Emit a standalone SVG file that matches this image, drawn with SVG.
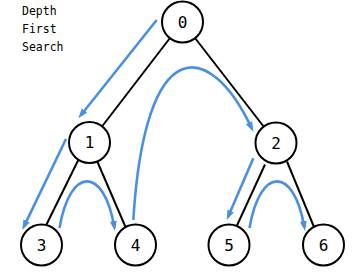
<svg xmlns="http://www.w3.org/2000/svg" width="359" height="274" viewBox="0 0 359 274">
<defs>
<style>
.node circle{fill:#fff;stroke:#000;stroke-width:2}
.node text{font-family:"DejaVu Sans Mono","Liberation Mono",monospace;font-size:16px;text-anchor:middle;dominant-baseline:central;fill:#000}
.edge{stroke:#000;stroke-width:2;fill:none}
.walk{stroke:#4A90E2;stroke-width:2.6;fill:none;marker-end:url(#ah)}
.title{font-family:"DejaVu Sans Mono","Liberation Mono",monospace;font-size:11.5px;fill:#000}
</style>
<marker id="ah" markerUnits="userSpaceOnUse" markerWidth="10" markerHeight="8" refX="6" refY="4" orient="auto">
<path d="M0,0.5 L10,4 L0,7.5 z" fill="#4A90E2"/>
</marker>
</defs>
<rect width="359" height="274" fill="#fff"/>
<g id="title">
<text class="title" x="22" y="15">Depth</text>
<text class="title" x="22" y="33">First</text>
<text class="title" x="22" y="50.5">Search</text>
</g>
<g id="connectors">
<line class="edge" x1="170" y1="38" x2="102" y2="126.5"/>
<line class="edge" x1="195" y1="38" x2="264" y2="127"/>
<line class="edge" x1="78.3" y1="160" x2="46" y2="225.5"/>
<line class="edge" x1="97.3" y1="161.5" x2="125.5" y2="227"/>
<line class="edge" x1="265" y1="164.5" x2="236.5" y2="226.5"/>
<line class="edge" x1="287" y1="161.5" x2="314" y2="227"/>
<path class="walk" d="M156.7,20 L80.8,115.2"/>
<path class="walk" d="M66,139 L24,226.4"/>
<path class="walk" d="M59.5,228 C70,166 104,166 114.3,227"/>
<path class="walk" d="M133.3,220 C145,30 210,40 251.6,128.1"/>
<path class="walk" d="M253.3,158.3 L228.3,216.3"/>
<path class="walk" d="M249.5,228 C260,166 294,166 304.3,227"/>
</g>
<g id="node0" class="node"><circle cx="182.5" cy="22" r="20.5"/><text x="182.5" y="22">0</text></g>
<g id="node1" class="node"><circle cx="89.5" cy="142.5" r="20.5"/><text x="89.5" y="142.5">1</text></g>
<g id="node2" class="node"><circle cx="276" cy="143" r="20.5"/><text x="276" y="143">2</text></g>
<g id="node3" class="node"><circle cx="41.5" cy="245" r="20.5"/><text x="41.5" y="245">3</text></g>
<g id="node4" class="node"><circle cx="135.5" cy="245" r="20.5"/><text x="135.5" y="245">4</text></g>
<g id="node5" class="node"><circle cx="229" cy="245" r="20.5"/><text x="229" y="245">5</text></g>
<g id="node6" class="node"><circle cx="323.5" cy="245" r="20.5"/><text x="323.5" y="245">6</text></g>
</svg>
